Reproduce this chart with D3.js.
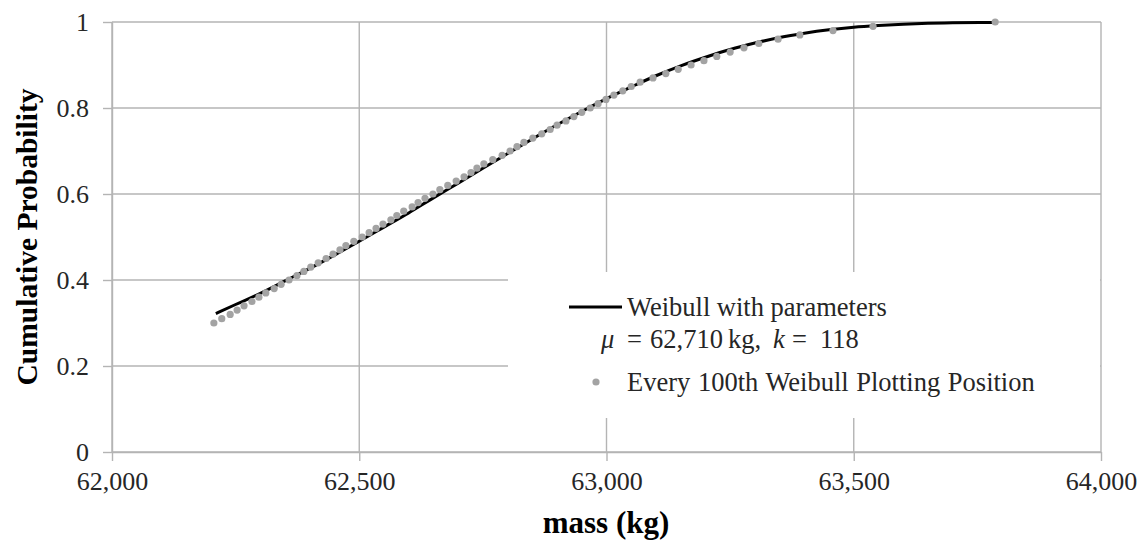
<!DOCTYPE html>
<html>
<head>
<meta charset="utf-8">
<script src="https://cdn.jsdelivr.net/npm/d3@7"></script>
<style>
  html, body { margin: 0; padding: 0; background: #fff; }
  svg { display: block; }
  text { font-family: "Liberation Serif", "Times New Roman", serif; }
</style>
</head>
<body>
<svg id="chart" width="1143" height="540"></svg>
<script>
// ---- Data ----
// Weibull CDF line: mass (kg) and cumulative probability
const lineMass = [62210, 62250, 62300, 62350, 62400, 62450, 62500, 62550, 62600, 62650,
  62700, 62750, 62800, 62850, 62900, 62950, 63000, 63050, 63100, 63150, 63200, 63250,
  63300, 63350, 63400, 63450, 63500, 63550, 63600, 63650, 63700, 63786];
const lineProb = [0.322, 0.343, 0.369, 0.398, 0.427, 0.458, 0.490, 0.523, 0.556, 0.591,
  0.625, 0.660, 0.694, 0.728, 0.761, 0.792, 0.822, 0.849, 0.875, 0.898, 0.918, 0.936,
  0.951, 0.964, 0.974, 0.982, 0.988, 0.992, 0.995, 0.997, 0.998, 0.999];

// Every 100th Weibull plotting position: mass (kg) and probability
const pointMass = [62206, 62222, 62239, 62253, 62267, 62283, 62297, 62311, 62328, 62342,
  62358, 62374, 62388, 62402, 62417, 62433, 62447, 62461, 62473, 62489,
  62506, 62520, 62534, 62548, 62564, 62576, 62590, 62607, 62619, 62633,
  62649, 62663, 62679, 62696, 62712, 62726, 62738, 62752, 62770, 62789,
  62805, 62819, 62833, 62851, 62869, 62886, 62900, 62918, 62934, 62950,
  62967, 62983, 62999, 63015, 63033, 63050, 63068, 63094, 63120, 63145,
  63171, 63197, 63223, 63250, 63278, 63308, 63347, 63391, 63458, 63539, 63786];
const pointProb = [0.30, 0.31, 0.32, 0.33, 0.34, 0.35, 0.36, 0.37, 0.38, 0.39,
  0.40, 0.41, 0.42, 0.43, 0.44, 0.45, 0.46, 0.47, 0.48, 0.49,
  0.50, 0.51, 0.52, 0.53, 0.54, 0.55, 0.56, 0.57, 0.58, 0.59,
  0.60, 0.61, 0.62, 0.63, 0.64, 0.65, 0.66, 0.67, 0.68, 0.69,
  0.70, 0.71, 0.72, 0.73, 0.74, 0.75, 0.76, 0.77, 0.78, 0.79,
  0.80, 0.81, 0.82, 0.83, 0.84, 0.85, 0.86, 0.87, 0.88, 0.89,
  0.90, 0.91, 0.92, 0.93, 0.94, 0.95, 0.96, 0.97, 0.98, 0.99, 1.00];

const xTicks = [62000, 62500, 63000, 63500, 64000];
const yTicks = [0, 0.2, 0.4, 0.6, 0.8, 1];
const xTitle = "mass (kg)";
const yTitle = "Cumulative Probability";
const legendLine1 = "Weibull with parameters";
const legendPoints = "Every 100th Weibull Plotting Position";
// legend formula pieces: [text, italic]
const legendFormula = [["μ", true], ["=", false], ["62,710", false], ["kg,", false], ["k", true], ["=", false], ["118", false]];

// ---- Layout ----
const svg = d3.select("#chart");
const plot = { left: 112, right: 1101, top: 22, bottom: 452 };
const gridColor = "#b4b4b4";
const textColor = "#262626";

const x = d3.scaleLinear().domain([62000, 64000]).range([plot.left, plot.right]);
const y = d3.scaleLinear().domain([0, 1]).range([plot.bottom, plot.top]);

// Gridlines
const g = svg.append("g");
g.selectAll(".hgrid").data(yTicks).enter().append("line")
  .attr("x1", plot.left).attr("x2", plot.right)
  .attr("y1", d => y(d)).attr("y2", d => y(d))
  .attr("stroke", gridColor).attr("stroke-width", 1.4);
g.selectAll(".vgrid").data(xTicks).enter().append("line")
  .attr("x1", d => x(d)).attr("x2", d => x(d))
  .attr("y1", plot.top).attr("y2", plot.bottom)
  .attr("stroke", gridColor).attr("stroke-width", 1.4);

// Axes
const fmt = d3.format(",");
const xAxis = d3.axisBottom(x).tickValues(xTicks).tickFormat(fmt).tickSizeInner(9).tickSizeOuter(0).tickPadding(8);
const yAxis = d3.axisLeft(y).tickValues(yTicks).tickFormat(d => d3.format("")(+d.toFixed(1))).tickSizeInner(9).tickSizeOuter(0).tickPadding(14);

const gx = svg.append("g").attr("transform", `translate(0,${plot.bottom})`).call(xAxis);
const gy = svg.append("g").attr("transform", `translate(${plot.left},0)`).call(yAxis);
[gx, gy].forEach(a => {
  a.attr("font-family", null);
  a.select(".domain").attr("stroke", gridColor).attr("stroke-width", 1.4);
  a.selectAll(".tick line").attr("stroke", gridColor).attr("stroke-width", 1.4);
  a.selectAll(".tick text").attr("fill", textColor)
    .style("font-family", "'Liberation Serif', serif").style("font-size", "26px");
});
gx.selectAll(".tick text").attr("dy", "0.8em");
gy.selectAll(".tick text").attr("dy", "0.33em");

// Legend background (covers gridlines)
svg.append("rect")
  .attr("x", 508).attr("y", 272).attr("width", plot.right - 508 - 1).attr("height", 146)
  .attr("fill", "#fff");

// Weibull line
const lineData = lineMass.map((m, i) => [m, lineProb[i]]);
svg.append("path").datum(lineData)
  .attr("d", d3.line().x(d => x(d[0])).y(d => y(d[1])).curve(d3.curveMonotoneX))
  .attr("fill", "none").attr("stroke", "#000").attr("stroke-width", 3);

// Plotting positions
const ptData = pointMass.map((m, i) => [m, pointProb[i]]);
svg.selectAll(".pt").data(ptData).enter().append("circle")
  .attr("cx", d => x(d[0])).attr("cy", d => y(d[1])).attr("r", 3.6)
  .attr("fill", "#a3a3a3");

// Legend
svg.append("line").attr("x1", 569).attr("x2", 622).attr("y1", 307).attr("y2", 307)
  .attr("stroke", "#000").attr("stroke-width", 3);
svg.append("text").attr("x", 627).attr("y", 316).attr("font-size", 26.5).attr("fill", textColor)
  .text(legendLine1);
const formulaX = [601, 627, 650, 728, 773, 792, 820];
const t2 = svg.append("text").attr("y", 348).attr("font-size", 26.5).attr("fill", textColor);
legendFormula.forEach((p, i) => {
  t2.append("tspan").attr("x", formulaX[i])
    .attr("font-style", p[1] ? "italic" : "normal").text(p[0]);
});
svg.append("circle").attr("cx", 596).attr("cy", 382).attr("r", 3.6).attr("fill", "#a3a3a3");
svg.append("text").attr("x", 627).attr("y", 391).attr("font-size", 26.5).attr("fill", textColor)
  .attr("word-spacing", "1px").text(legendPoints);

// Axis titles
svg.append("text").attr("x", 606).attr("y", 533).attr("text-anchor", "middle")
  .attr("font-size", 31).attr("font-weight", "bold").attr("fill", "#000").text(xTitle);
svg.append("text").attr("transform", `translate(37,237) rotate(-90)`).attr("text-anchor", "middle")
  .attr("font-size", 29.5).attr("font-weight", "bold").attr("fill", "#000").text(yTitle);
</script>
</body>
</html>
